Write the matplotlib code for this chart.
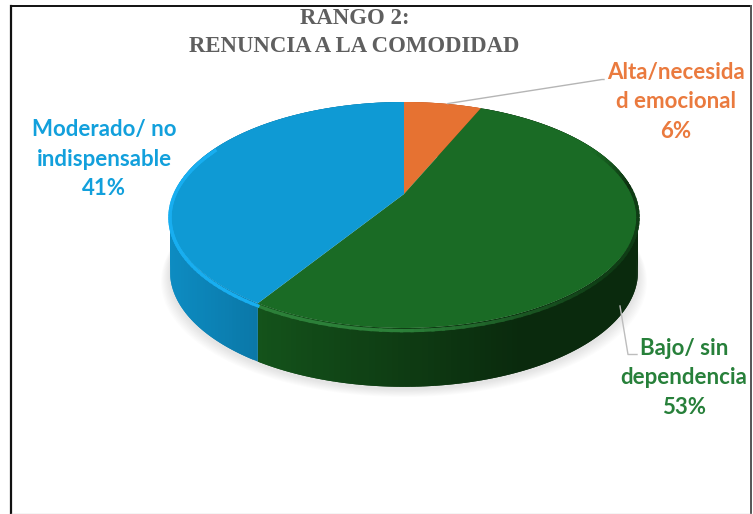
import numpy as np
import matplotlib
matplotlib.use("Agg")
import matplotlib.pyplot as plt
from matplotlib.colors import to_rgb

title_lines = ["RANGO 2:", "RENUNCIA A LA COMODIDAD"]
categories = ["Alta/necesida\nd emocional", "Bajo/ sin\ndependencia", "Moderado/ no\nindispensable"]
values = [6.4, 52.6, 41.0]
top_colors = ["#e67232", "#1a6b25", "#0f9ad4"]
text_colors = ["#ea7a3e", "#27803a", "#12a0dc"]

W, H = 753, 514
# perspective of the pie plane, worked out from the picture (pixels)
cx, apex_y, back_y, front_y, half_w = 404, 194, 102, 328, 234
persp = (back_y + front_y - 2 * apex_y) / (front_y - back_y)
slope = back_y * (1 + persp) - apex_y
k = half_w * np.sqrt(1 - persp ** 2)


def project(frac, drop=0.0):
    # frac = share of the pie going clockwise from 12 o'clock
    t = 2 * np.pi * np.asarray(frac, dtype=float)
    u, v = np.sin(t), np.cos(t)
    d = 1 + persp * v
    x = cx + k * u / d
    y = (slope * v + apex_y) / d
    return x, y + drop * (1 - 0.05 * v)


def mix(a, b, s):
    a, b = np.array(to_rgb(a)), np.array(to_rgb(b))
    return tuple(a + (b - a) * float(np.clip(s, 0, 1)))


fig = plt.figure(figsize=(W / 100, H / 100), dpi=100)
ax = fig.add_axes([0, 0, 1, 1])
ax.set_xlim(0, W)
ax.set_ylim(H, 0)
ax.axis("off")

starts = np.cumsum([0] + values[:-1]) / sum(values)
ends = np.cumsum(values) / sum(values)
thick = 56

# soft shadow under the pie
ring = np.linspace(0, 1, 200)
for grow in range(9, 0, -1):
    sx, sy = project(ring, thick + 2)
    sx = cx + (sx - cx) * (1 + grow / 234)
    sy = sy + grow * 0.9
    ax.fill(sx, sy, color="#000000", alpha=0.012, lw=0, zorder=1)

# side wall, cut in thin strips for the shading
side_ends = {1: ("#14541b", "#0a2a0d"), 2: ("#0d8cc2", "#0b78a8"), 0: ("#c05a25", "#c05a25")}
for i in range(len(values)):
    n = max(int(values[i] * 3), 4)
    edges = np.linspace(starts[i], ends[i], n + 1)
    step = edges[1] - edges[0]
    for a in edges[:-1]:
        # each strip runs under the next one so no seam shows
        fr = np.linspace(a, min(a + step * 2, ends[i]), 6)
        x1, y1 = project(fr)
        x2, y2 = project(fr, thick)
        if i == 1:
            s = (ends[1] - a) / 0.16
        else:
            s = (project(a)[0] - 170) / 89
        c = mix(side_ends[i][0], side_ends[i][1], s)
        ax.fill(np.r_[x1, x2[::-1]], np.r_[y1, y2[::-1]], color=c, lw=0, zorder=2)

# top face
for i in range(len(values)):
    fr = np.linspace(starts[i], ends[i], 120)
    x, y = project(fr)
    ax.fill(np.r_[cx, x], np.r_[apex_y, y], color=top_colors[i], lw=0, zorder=3)

# bevel along the rim
rim = {1: "#2c8039", 2: "#18aef0"}
for i in (1, 2):
    edges = np.linspace(starts[i], ends[i], 90)
    for a, b in zip(edges[:-1], edges[1:]):
        fr = np.array([a, b])
        x, y = project(fr, 2.5)
        v = np.cos(2 * np.pi * fr.mean())
        if v > 0.45:
            continue
        if i == 1:
            if v > 0.05:
                col = mix(top_colors[1], "#0b2c0e", (0.45 - v) / 0.4)
            else:
                col = mix(rim[1], "#0f3d15", (x.mean() - 400) / 200)
        else:
            col = rim[2]
        ax.plot(x, y, color=col, lw=2.4, solid_capstyle="projecting", zorder=4)

# leader lines
lx, ly = project((starts[0] + ends[0]) / 2)
ax.plot([lx + 5, 602, 604], [ly, 79.5, 79.5], color="#b5b5b5", lw=1, zorder=5)
ax.plot([620, 628, 637], [306, 354.5, 354.5], color="#bdbdbd", lw=1, zorder=5)

# title
ax.text(354.5, 19, title_lines[0], ha="center", va="center", family="Liberation Serif",
        weight="bold", fontsize=16.4, color="#5f5f5f")
ax.text(354.5, 47, title_lines[1], ha="center", va="center", family="Liberation Serif",
        weight="bold", fontsize=16.4, color="#5f5f5f")

# data labels
label_xy = [(676, 102), (684, 378), (104, 159)]
for name, val, col, (tx, ty) in zip(categories, values, text_colors, label_xy):
    ax.text(tx, ty, f"{name}\n{val:.0f}%", ha="center", va="center", color=col,
            family="Lato", weight="bold", fontsize=16, linespacing=1.5)

# picture frame
ax.plot([11, 11], [H, 6], color="#111111", lw=1.6, zorder=6)
ax.plot([11, 751.5], [6, 6], color="#111111", lw=1.4, zorder=6)
ax.plot([751.5, 751.5], [6, H], color="#555555", lw=1.4, zorder=6)
ax.plot([11, 751.5], [513.5, 513.5], color="#cccccc", lw=1, zorder=6)

fig.savefig("out.png", dpi=100)
